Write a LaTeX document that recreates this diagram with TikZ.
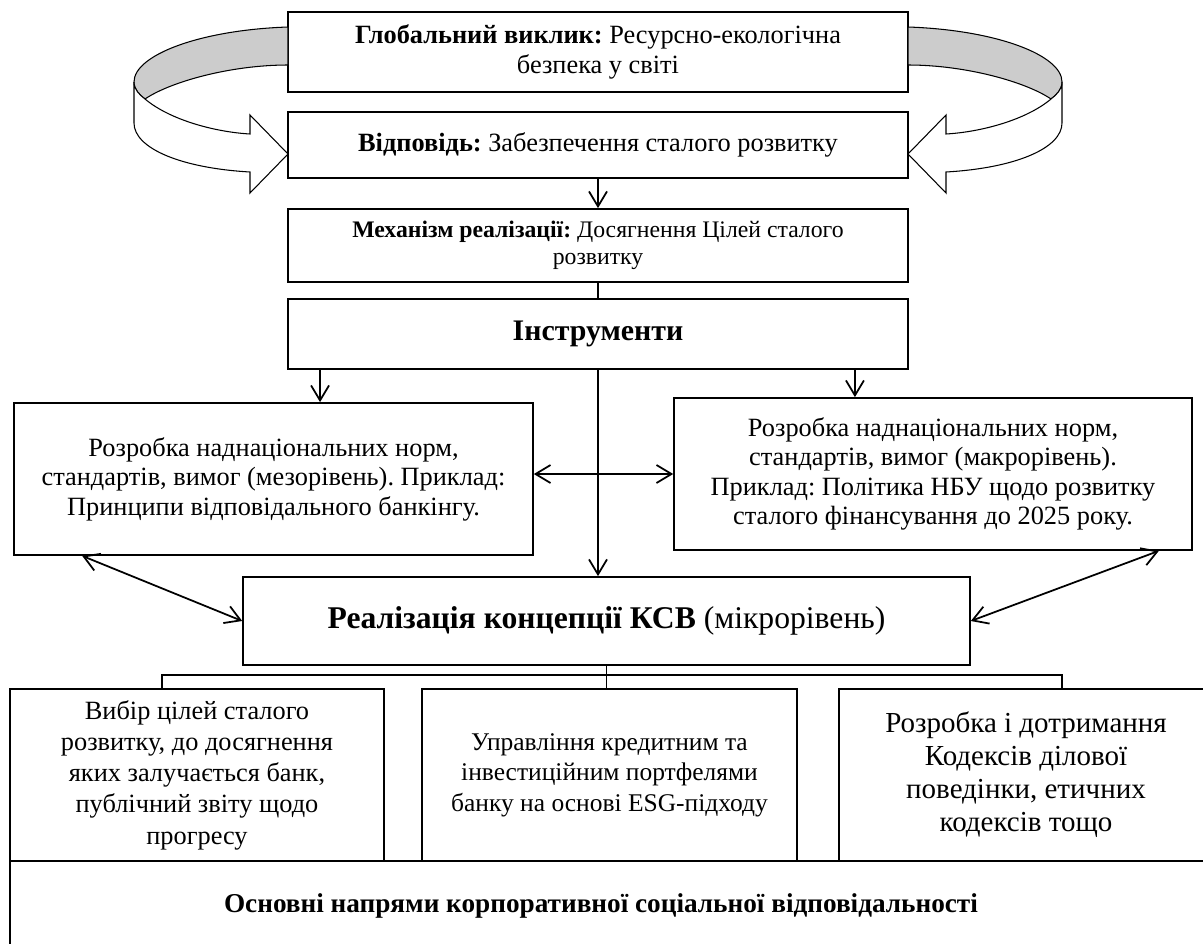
\documentclass[tikz,border=0pt]{standalone}
\usepackage{fontspec}
\setmainfont{Liberation Serif}
\usetikzlibrary{arrows.meta}
\frenchspacing

\begin{document}
\begin{tikzpicture}[x=0.02cm,y=-0.02cm,
  box/.style={draw,line width=1pt,align=center,inner sep=2pt,font=\fontsize{15}{16.8}\selectfont},
  arr/.style={line width=1pt,-{Straight Barb[length=3mm,width=3.6mm]}},
  darr/.style={line width=1pt,{Straight Barb[length=3mm,width=3.6mm]}-{Straight Barb[length=3mm,width=3.6mm]}},
  thinline/.style={line width=0.6pt},
  ribbon/.style={draw,line width=0.6pt}]
\useasboundingbox (0,0) rectangle (1203,943);
\clip (0,0) rectangle (1203,943);

% upper chain
\node[box,minimum width=12.4cm,minimum height=1.6cm,font=\fontsize{15}{17}\selectfont] (glob) at (598,52)
  {\textbf{Глобальний виклик:} Ресурсно-екологічна\\безпека у світі};
\node[box,minimum width=12.4cm,minimum height=1.32cm] (resp) at (598,145)
  {\textbf{Відповідь:} Забезпечення сталого розвитку};
\node[box,minimum width=12.4cm,minimum height=1.46cm,font=\fontsize{13.5}{15}\selectfont] (mech) at (598,245.5)
  {\textbf{Механізм реалізації:} Досягнення Цілей сталого\\розвитку};
\node[box,minimum width=12.4cm,minimum height=1.4cm,font=\fontsize{17}{20}\selectfont\bfseries] (instr) at (598,334)
  {Інструменти};

% curved arrows
\foreach \s/\o in {1/0,-1/1196}{
  \begin{scope}[shift={(\o,0)},xscale=\s]
    \draw[ribbon,fill=gray!40] (288,27) .. controls (200,30) and (134,55) .. (134,82)
      .. controls (134,90) and (140,95) .. (145,99)
      .. controls (170,82) and (230,65) .. (288,65) -- cycle;
    \draw[ribbon,fill=white] (134,82) .. controls (134,90) and (140,95) .. (145,99)
      .. controls (170,120) and (215,132) .. (250,134) -- (250,115) -- (288,154)
      -- (250,193) -- (250,172) .. controls (180,168) and (134,148) .. (134,123) -- cycle;
  \end{scope}
}

% levels
\node[box,minimum width=10.38cm,minimum height=3.04cm] (meso) at (273.5,479)
  {Розробка наднаціональних норм,\\стандартів, вимог (мезорівень). Приклад:\\Принципи відповідального банкінгу.};
\node[box,minimum width=10.36cm,minimum height=3.04cm] (macro) at (933,474)
  {Розробка наднаціональних норм,\\стандартів, вимог (макрорівень).\\Приклад: Політика НБУ щодо розвитку\\сталого фінансування до 2025 року.};
\node[box,minimum width=14.54cm,minimum height=1.76cm,font=\fontsize{18}{21}\selectfont] (csr) at (606.5,621)
  {\textbf{Реалізація концепції КСВ} (мікрорівень)};

% directions
\node[box,minimum width=7.48cm,minimum height=3.44cm,font=\fontsize{15}{17.8}\selectfont] (goals) at (197,775)
  {Вибір цілей сталого\\розвитку, до досягнення\\яких залучається банк,\\публічний звіту щодо\\прогресу};
\node[box,minimum width=7.5cm,minimum height=3.44cm,font=\fontsize{14.5}{17.3}\selectfont] (port) at (609.5,775)
  {Управління кредитним та\\інвестиційним портфелями\\банку на основі ESG-підходу};
\node[box,minimum width=7.48cm,minimum height=3.44cm,font=\fontsize{16.5}{18.8}\selectfont] (codes) at (1026,775)
  {Розробка і дотримання\\Кодексів ділової\\поведінки, етичних\\кодексів тощо};
\node[box,minimum width=24.06cm,minimum height=2.04cm] (base) at (611.5,912) {};
\node[font=\fontsize{15.5}{18}\selectfont\bfseries] (basetext) at (601,906)
  {Основні напрями корпоративної соціальної відповідальності};

% connectors
\draw[arr] (resp) -- (mech);
\draw[line width=1pt] (mech) -- (instr);
\draw[arr] ([xshift=-5.56cm]instr.south) -- ([xshift=-5.56cm]instr.south |- meso.north);
\draw[arr] ([xshift=5.14cm]instr.south) -- ([xshift=5.14cm]instr.south |- macro.north);
\draw[arr] (instr.south) -- (instr.south |- csr.north);
\draw[darr] (meso.east |- macro.west) -- (macro.west);
\draw[darr] ([xshift=1.38cm]meso.south west) -- (csr.west);
\draw[darr] ([xshift=-0.68cm]macro.south east) -- (csr.east);

\coordinate (brl) at (162,675);
\coordinate (brr) at (1062,675);
\draw[thinline] (brl |- goals.north) -- (brl) -- (brr) -- (brr |- codes.north);
\draw[thinline] (csr.south) -- (csr.south |- port.north);
\end{tikzpicture}
\end{document}
